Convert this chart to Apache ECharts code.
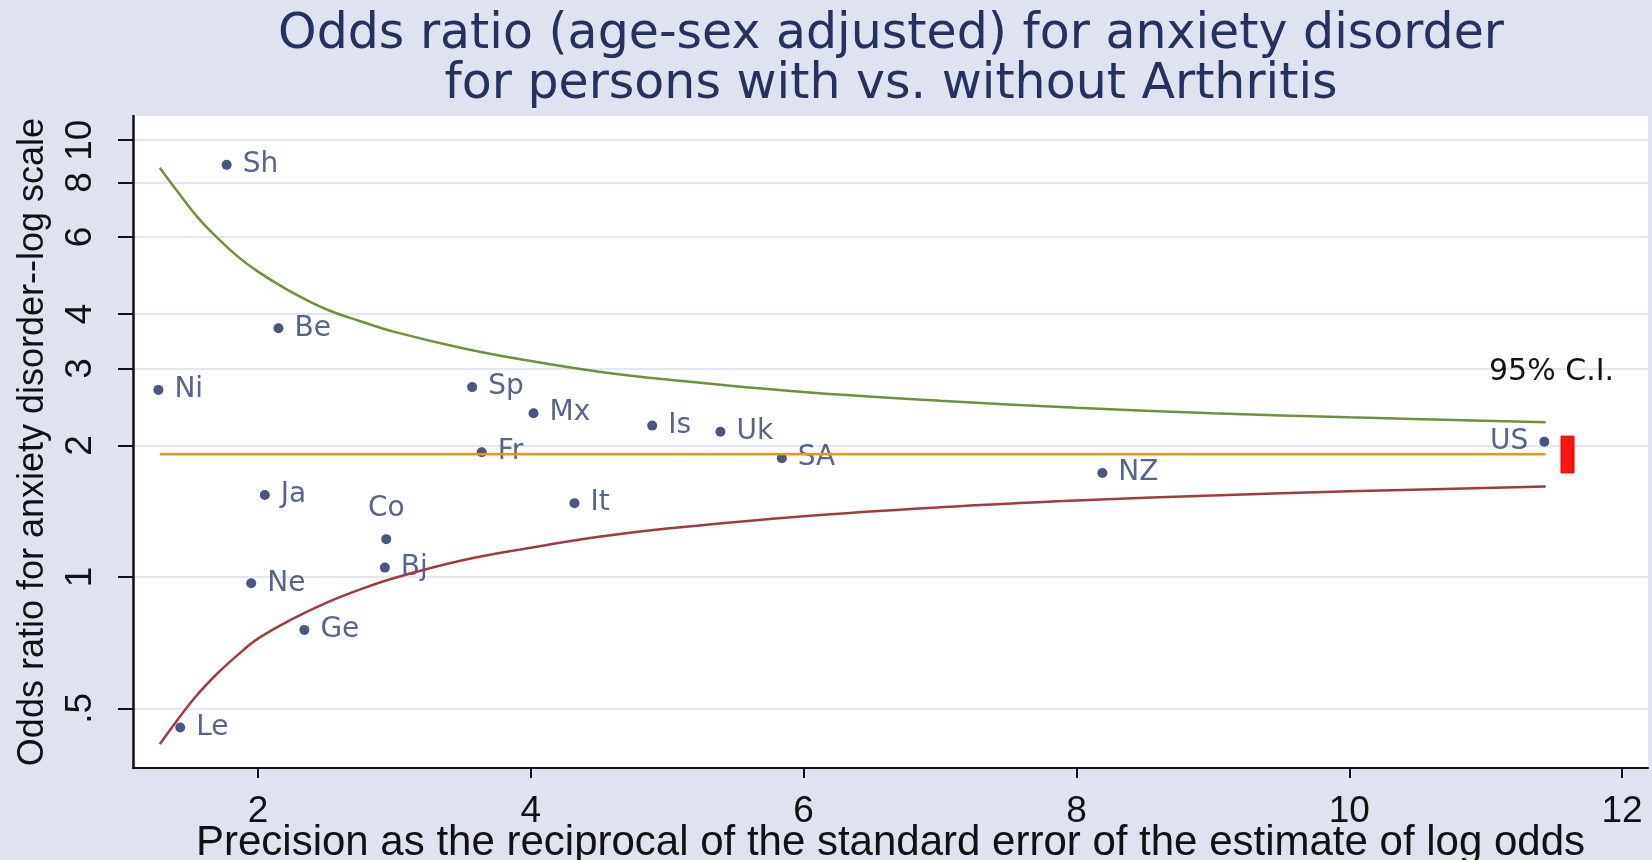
<!DOCTYPE html>
<html><head><meta charset="utf-8">
<script src="https://cdn.jsdelivr.net/npm/echarts@6/dist/echarts.min.js"></script>
<style>html,body{margin:0;padding:0;background:#dee3ef}#c{width:1652px;height:860px}</style>
</head><body><div id="c"></div>
<script>
const titleLines = ['Odds ratio (age-sex adjusted) for anxiety disorder', 'for persons with vs. without Arthritis'];
const xAxisTitle = 'Precision as the reciprocal of the standard error of the estimate of log odds';
const yAxisTitle = 'Odds ratio for anxiety disorder--log scale';

const countries = ['Sh','Be','Ni','Ja','Co','Bj','Ne','Ge','Le','Sp','Mx','Is','Uk','Fr','It','SA','NZ','US'];
const precision = [1.77, 2.15, 1.27, 2.05, 2.94, 2.93, 1.95, 2.34, 1.43, 3.57, 4.02, 4.89, 5.39, 3.64, 4.32, 5.84, 8.19, 11.43];
const oddsRatio = [8.78, 3.71, 2.68, 1.54, 1.22, 1.05, 0.967, 0.756, 0.452, 2.72, 2.37, 2.22, 2.15, 1.93, 1.475, 1.87, 1.73, 2.04];
const labelSide = {Co: 'top', US: 'left'};

const ciPrecision = [1.28, 1.4, 1.55, 1.7, 1.85, 2, 2.25, 2.5, 2.75, 3, 3.5, 4, 4.5, 5, 6, 7, 8, 9, 10, 11.44];
const ciUpper = [8.65, 7.7, 6.7, 5.98, 5.42, 5.0, 4.48, 4.1, 3.85, 3.64, 3.34, 3.12, 2.95, 2.83, 2.65, 2.53, 2.44, 2.37, 2.32, 2.26];
const ciLower = [0.414, 0.466, 0.535, 0.6, 0.662, 0.722, 0.8, 0.872, 0.936, 0.994, 1.091, 1.166, 1.235, 1.29, 1.377, 1.443, 1.495, 1.536, 1.57, 1.61];

const pooledOR = 1.91;
const pooledRange = [1.28, 11.44];
const pooledCI = {x: 11.6, lo: 1.73, hi: 2.10, label: '95% C.I.'};

const xTicks = [2, 4, 6, 8, 10, 12];
const yTickValues = [0.5, 1, 2, 3, 4, 6, 8, 10];
const yTickLabels = ['.5', '1', '2', '3', '4', '6', '8', '10'];

const L = v => Math.log10(v);
const yLogTicks = yTickValues.map(L);
const axisFont = 'Liberation Sans';

const chart = echarts.init(document.getElementById('c'));
chart.setOption({
  animation: false,
  backgroundColor: '#dee3ef',
  graphic: [
    {type: 'text', x: 891, y: 35, style: {text: titleLines[0], font: '49px "DejaVu Sans"', fill: '#25325e', align: 'center', verticalAlign: 'middle'}},
    {type: 'text', x: 891, y: 85, style: {text: titleLines[1], font: '49px "DejaVu Sans"', fill: '#25325e', align: 'center', verticalAlign: 'middle'}}
  ],
  grid: {left: 133, right: 4, top: 116, bottom: 92, show: true, backgroundColor: '#ffffff', borderWidth: 0, outerBoundsMode: 'none', containLabel: false},
  xAxis: {
    type: 'value', min: 1.0836, max: 12.19,
    name: xAxisTitle, nameLocation: 'middle', nameGap: 54, nameMoveOverlap: false,
    nameTextStyle: {fontFamily: axisFont, fontSize: 42, color: '#111'},
    axisLine: {show: true, onZero: false, lineStyle: {color: '#111', width: 2}},
    axisTick: {show: true, customValues: xTicks, length: 10, lineStyle: {color: '#111', width: 2}},
    axisLabel: {customValues: xTicks, fontFamily: axisFont, fontSize: 37, color: '#111', margin: 25, hideOverlap: false},
    splitLine: {show: false}
  },
  yAxis: {
    type: 'value', min: L(0.365), max: L(11.36),
    name: yAxisTitle, nameLocation: 'middle', nameGap: 82, nameRotate: 90, nameMoveOverlap: false,
    nameTextStyle: {fontFamily: axisFont, fontSize: 36, color: '#111'},
    axisLine: {show: true, onZero: false, lineStyle: {color: '#111', width: 2.5}},
    axisTick: {show: true, customValues: yLogTicks, length: 15, lineStyle: {color: '#111', width: 2}},
    axisLabel: {
      customValues: yLogTicks, rotate: 90, margin: 34, fontFamily: axisFont, fontSize: 37, color: '#111', hideOverlap: false,
      formatter: v => { const i = yLogTicks.findIndex(t => Math.abs(t - v) < 1e-6); return i >= 0 ? yTickLabels[i] : ''; }
    },
    splitLine: {show: true, lineStyle: {color: '#e2e7f1', width: 2}}
  },
  series: [
    {
      type: 'scatter', z: 2, symbol: 'circle', symbolSize: 10,
      itemStyle: {color: '#1b2c5c'},
      label: {show: true, formatter: '{b}', fontFamily: 'DejaVu Sans', fontSize: 28, color: '#2d3f70', distance: 11},
      data: countries.map((c, i) => ({name: c, value: [precision[i], L(oddsRatio[i])], label: {position: labelSide[c] || 'right'}}))
    },
    {
      type: 'line', z: 3, symbol: 'none', smooth: 0.4,
      lineStyle: {color: '#6e9140', width: 2.5},
      data: ciPrecision.map((x, i) => [x, L(ciUpper[i])])
    },
    {
      type: 'line', z: 3, symbol: 'none', smooth: 0.4,
      lineStyle: {color: '#a33a40', width: 2.5},
      data: ciPrecision.map((x, i) => [x, L(ciLower[i])])
    },
    {
      type: 'line', z: 4, symbol: 'none',
      lineStyle: {color: '#f29312', width: 2.5},
      data: pooledRange.map(x => [x, L(pooledOR)])
    },
    {
      type: 'custom', z: 5, clip: false,
      data: [[pooledCI.x, L(pooledCI.lo), L(pooledCI.hi)]],
      renderItem: (params, api) => {
        const top = api.coord([api.value(0), api.value(2)]);
        const bot = api.coord([api.value(0), api.value(1)]);
        return {type: 'group', children: [
          {type: 'rect', shape: {x: top[0] - 6.5, y: top[1], width: 13, height: bot[1] - top[1]}, style: {fill: '#ff1414', stroke: '#e00000', lineWidth: 1}},
          {type: 'text', x: top[0] - 16, y: top[1] - 64, style: {text: pooledCI.label, font: '30px "DejaVu Sans"', fill: '#111', align: 'center', verticalAlign: 'middle'}}
        ]};
      }
    }
  ]
});
</script></body></html>
